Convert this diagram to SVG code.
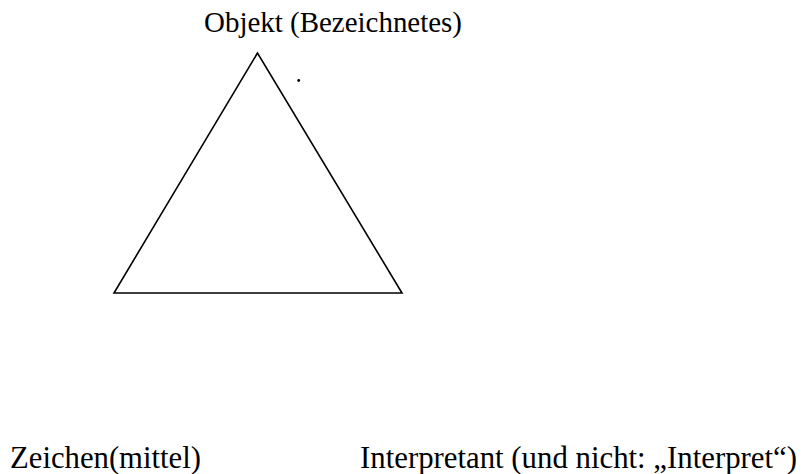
<svg xmlns="http://www.w3.org/2000/svg" width="809" height="474" viewBox="0 0 809 474">
<style>
.t{font-family:"Liberation Serif","Times New Roman",serif;font-size:29px;fill:#000}
.b{font-size:31px}
.e{fill:none;stroke:#000;stroke-width:1.6}
</style>
<rect width="809" height="474" fill="#fff"/>
<g id="connectors">
<polygon class="e" points="257.5,53 114,293 402,293"/>
</g>
<g id="objekt">
<text class="t" x="204" y="32" textLength="258" lengthAdjust="spacingAndGlyphs">Objekt (Bezeichnetes)</text>
<circle cx="298.7" cy="80.5" r="1.4" fill="#000"/>
</g>
<g id="zeichen">
<text class="t b" x="10" y="468" textLength="191" lengthAdjust="spacingAndGlyphs">Zeichen(mittel)</text>
</g>
<g id="interpretant">
<text class="t b" x="360" y="468" textLength="437" lengthAdjust="spacingAndGlyphs">Interpretant (und nicht: „Interpret“)</text>
</g>
</svg>
